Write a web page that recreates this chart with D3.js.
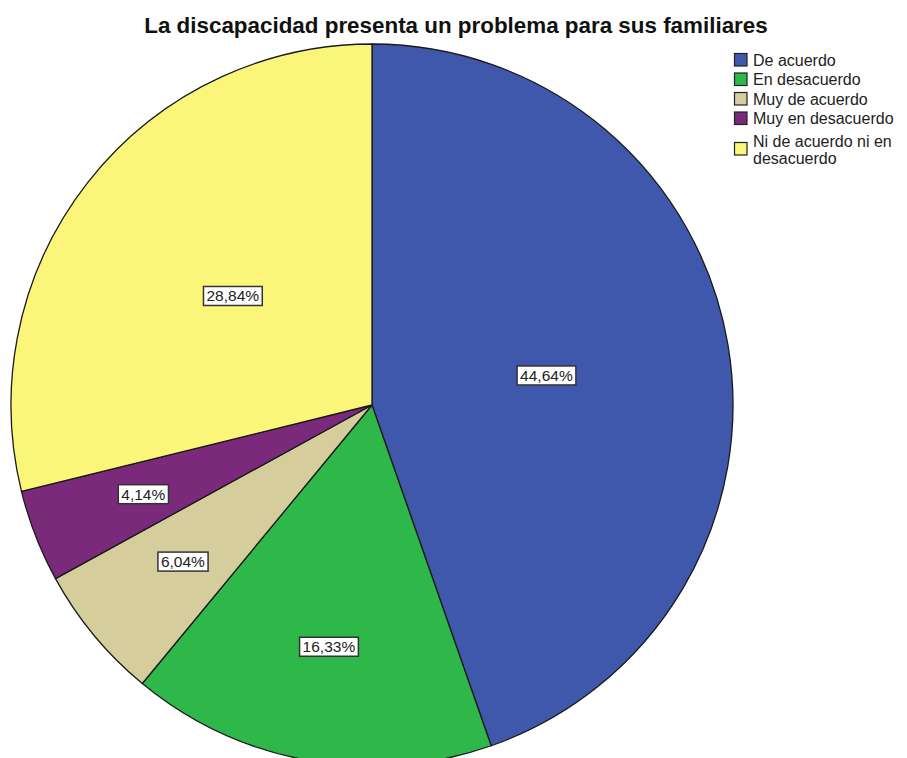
<!DOCTYPE html>
<html>
<head>
<meta charset="utf-8">
<script src="https://cdn.jsdelivr.net/npm/d3@7"></script>
<style>
  body { margin: 0; background: #fff; }
  text { font-family: "Liberation Sans", Arial, sans-serif; }
</style>
</head>
<body>
<div id="chart-area"></div>
<script>
// DATA
var categories = ["De acuerdo", "En desacuerdo", "Muy de acuerdo", "Muy en desacuerdo", "Ni de acuerdo ni en desacuerdo"];
var legendLines = [["De acuerdo"], ["En desacuerdo"], ["Muy de acuerdo"], ["Muy en desacuerdo"], ["Ni de acuerdo ni en", "desacuerdo"]];
var percents = [44.64, 16.33, 6.04, 4.14, 28.84];
var colors = ["#3f58ab", "#2fb84a", "#d5cd9b", "#7b2a7b", "#fbf67a"];
var title = "La discapacidad presenta un problema para sus familiares";

var width = 907, height = 758;
var cx = 372, cy = 405, radius = 361;

var svg = d3.select("#chart-area")
    .append("svg")
    .attr("width", width)
    .attr("height", height);

// TITLE
svg.append("text")
    .attr("x", 456)
    .attr("y", 33)
    .attr("text-anchor", "middle")
    .attr("font-size", "22.4px")
    .attr("font-weight", "bold")
    .style("fill", "#111")
    .text(title);

// PIE
var data = categories.map((c, i) => ({ cat: c, value: percents[i], color: colors[i] }));

var pie = d3.pie().sort(null).value((d) => d.value);
var arc = d3.arc().innerRadius(0).outerRadius(radius);

var g = svg.append("g")
    .attr("transform", "translate(" + cx + ", " + cy + ")");

var arcs = pie(data);

g.selectAll("path.slice").data(arcs).enter()
    .append("path")
    .attr("class", "slice")
    .attr("d", arc)
    .attr("fill", (d) => d.data.color)
    .attr("stroke", "#1a1a1a")
    .attr("stroke-width", 1.3)
    .attr("stroke-linejoin", "round");

// LABELS - small slices sit further out
var labels = g.selectAll("g.label").data(arcs).enter()
    .append("g")
    .attr("class", "label")
    .attr("transform", (d) => {
        var r = d.data.value >= 20 ? radius * 0.49 : radius * 0.68;
        var a = (d.startAngle + d.endAngle) / 2;
        return "translate(" + (r * Math.sin(a)) + ", " + (-r * Math.cos(a)) + ")";
    });

labels.append("text")
    .attr("text-anchor", "middle")
    .attr("dy", "0.36em")
    .attr("font-size", "15.5px")
    .style("fill", "#222")
    .text((d) => d.data.value.toFixed(2).replace(".", ",") + "%");

labels.each(function () {
    var t = d3.select(this).select("text");
    var bb = t.node().getBBox();
    d3.select(this).insert("rect", "text")
        .attr("x", bb.x - 3)
        .attr("y", bb.y - 1)
        .attr("width", bb.width + 6)
        .attr("height", bb.height + 2)
        .attr("fill", "#fff")
        .attr("stroke", "#333")
        .attr("stroke-width", 1.5);
});

// LEGEND
var legend = svg.append("g").attr("transform", "translate(734, 53)");
var rowY = [0, 19.5, 39, 58.5, 89];

legendLines.forEach((lines, i) => {
    var row = legend.append("g").attr("transform", "translate(0, " + rowY[i] + ")");
    row.append("rect")
        .attr("x", 0.5)
        .attr("y", 0.5)
        .attr("width", 12.5)
        .attr("height", 12.5)
        .attr("fill", colors[i])
        .attr("stroke", "#222")
        .attr("stroke-width", 1.2);
    var offset = lines.length > 1 ? -8 : 0;
    lines.forEach((l, j) => {
        row.append("text")
            .attr("x", 19)
            .attr("y", 12.5 + offset + j * 17)
            .attr("font-size", "16px")
            .style("fill", "#222")
            .text(l);
    });
});
</script>
</body>
</html>
